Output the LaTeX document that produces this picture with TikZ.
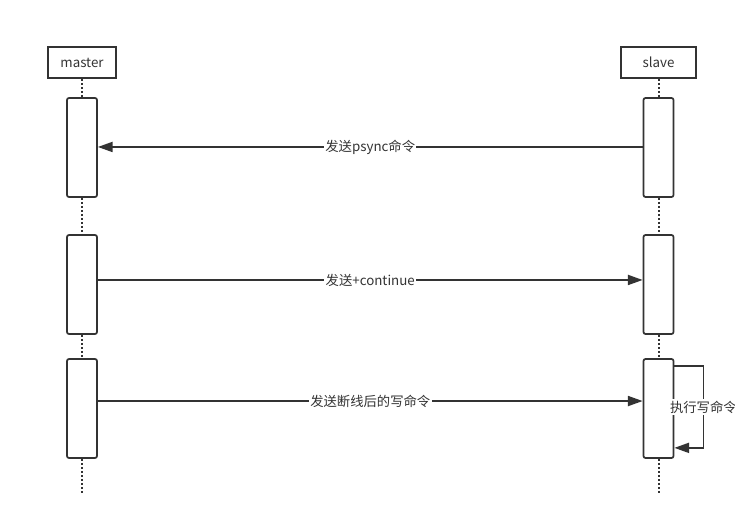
\documentclass[tikz,border=0pt]{standalone}
\usepackage{fontspec}
\setmainfont{Noto Sans CJK SC}
\usetikzlibrary{positioning,arrows.meta}

\begin{document}
\begin{tikzpicture}[x=0.75pt, y=-0.75pt, >={Triangle[length=11pt,width=7.5pt]},
line width=1.3pt, color=black!80, font=\fontsize{10}{12}\selectfont,
actor/.style={draw, minimum height=23.25pt, inner sep=0pt},
act/.style={draw, fill=white, rounded corners=1.5pt, minimum width=22.5pt, minimum height=74.25pt},
msg/.style={fill=white, inner sep=1pt},
life/.style={line width=1.5pt, dash pattern=on 1.5pt off 1.5pt}
]
\useasboundingbox (0,0) rectangle (735,528);

\node (master) [actor, minimum width=51pt] at (82,62.5) {master};
\node (m1) [act, below=13.7pt of master] {};
\node (m2) [act, below=27.2pt of m1] {};
\node (m3) [act, below=17.45pt of m2] {};
\coordinate [below=27pt of m3] (mend);

\node (slave) [actor, minimum width=56.25pt] at (658.5,62.5) {slave};
\node (s1) [act, below=13.7pt of slave] {};
\node (s2) [act, below=27.2pt of s1] {};
\node (s3) [act, below=17.45pt of s2] {};
\coordinate [below=27pt of s3] (send);

\draw[life] (master) -- (m1) (m1) -- (m2) (m2) -- (m3) (m3) -- (mend);
\draw[life] (slave) -- (s1) (s1) -- (s2) (s2) -- (s3) (s3) -- (send);

\draw[->] ([yshift=0.4pt]s1.west) -- node [msg] {发送psync命令} ([yshift=0.4pt]m1.east);
\draw[->] ([yshift=3.4pt]m2.east) -- node [msg] {发送+continue} ([yshift=3.4pt]s2.west);
\draw[->] ([yshift=5.6pt]m3.east) -- node [msg] {发送断线后的写命令} ([yshift=5.6pt]s3.west);
\draw[->] ([yshift=-6pt]s3.north east) -- ++(29,0) |- node [msg, pos=.25] {执行写命令} ([yshift=8.25pt]s3.south east);

\end{tikzpicture}
\end{document}
